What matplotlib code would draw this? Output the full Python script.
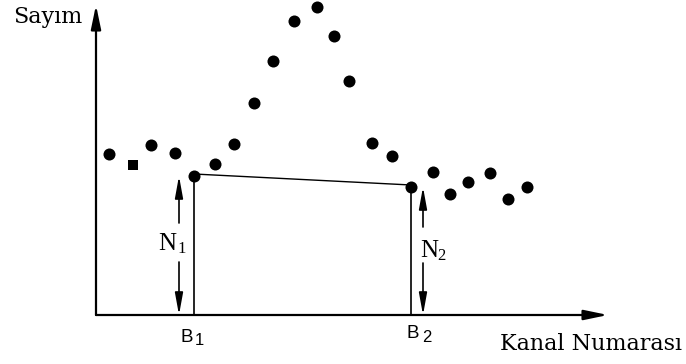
import matplotlib
matplotlib.use("Agg")
import matplotlib.pyplot as plt

# Spectrum data: channel number and counts per channel
channels = [0.65, 1.85, 2.75, 3.95, 4.9, 5.95, 6.9, 7.9, 8.85, 9.9, 11.05,
            11.9, 12.65, 13.8, 14.8, 15.75, 16.85, 17.7, 18.6, 19.7, 20.6, 21.55]
counts = [161, 150, 170, 162, 139, 151, 171, 212, 254, 294, 308,
          279, 234, 172, 159, 128, 143, 121, 133, 142, 116, 128]
square_idx = [1]          # one point drawn as a square marker

# Region boundaries B1, B2 and the background heights N1, N2
b1_idx, b2_idx = 4, 15
b1, b2 = channels[b1_idx], channels[b2_idx]
n1, n2 = counts[b1_idx], counts[b2_idx]

fig = plt.figure(figsize=(6.86, 3.64), dpi=100)
ax = fig.add_axes([0, 0, 1, 1])
ax.set_xlim(-4.8, 29.5)
ax.set_ylim(-49, 315)
ax.axis("off")

def arrow(x0, y0, x1, y1, lw, hl, hw, ms):
    ax.annotate("", xy=(x1, y1), xytext=(x0, y0),
                arrowprops=dict(arrowstyle=f"-|>,head_length={hl},head_width={hw}",
                                lw=lw, color="black", shrinkA=0, shrinkB=0,
                                mutation_scale=ms))

# Coordinate axes with arrow heads
arrow(0, 0, 25.6, 0, 1.6, 1.2, 0.25, 12)
arrow(0, 0, 0, 310, 1.6, 1.2, 0.25, 12)

# Data points
round_x = [c for i, c in enumerate(channels) if i not in square_idx]
round_y = [v for i, v in enumerate(counts) if i not in square_idx]
ax.scatter(round_x, round_y, s=75, marker="o", color="black", zorder=5, linewidths=0)
ax.scatter([channels[i] for i in square_idx], [counts[i] for i in square_idx],
           s=60, marker="s", color="black", zorder=5, linewidths=0)

# Boundary lines and the linear background between them
ax.plot([b1, b1], [0, n1], color="black", lw=1.2)
ax.plot([b2, b2], [0, n2], color="black", lw=1.2)
ax.plot([b1, b2], [n1 + 2, n2 + 2], color="black", lw=1.0)

# Height arrows for N1 and N2, broken around their labels
n1_x, n2_x = b1 - 0.75, b2 + 0.6
arrow(n1_x, 92, n1_x, n1, 1.2, 1.1, 0.2, 12)
arrow(n1_x, 53, n1_x, 0, 1.2, 1.1, 0.2, 12)
arrow(n2_x, 88, n2_x, n2, 1.2, 1.1, 0.2, 12)
arrow(n2_x, 52, n2_x, 0, 1.2, 1.1, 0.2, 12)

serif_big = dict(family="DejaVu Serif", fontsize=16, color="black")
ax.text(-4.15, 292, "Sayım", ha="left", va="baseline", **serif_big)
ax.text(20.2, -35, "Kanal Numarası", ha="left", va="baseline", **serif_big)

nfont = dict(family="Liberation Serif", color="black")
ax.text(3.1, 65, "N", ha="left", va="baseline", fontsize=18, **nfont)
ax.text(4.05, 62, "1", ha="left", va="baseline", fontsize=12, **nfont)
ax.text(16.2, 58, "N", ha="left", va="baseline", fontsize=18, **nfont)
ax.text(17.05, 55, "2", ha="left", va="baseline", fontsize=12, **nfont)

bfont = dict(family="Liberation Sans", color="black")
ax.text(4.2, -27, "B", ha="left", va="baseline", fontsize=13.5, **bfont)
ax.text(4.95, -30, "1", ha="left", va="baseline", fontsize=12, **bfont)
ax.text(15.55, -23, "B", ha="left", va="baseline", fontsize=13.5, **bfont)
ax.text(16.3, -27, "2", ha="left", va="baseline", fontsize=12, **bfont)

fig.savefig("out.png", dpi=100, facecolor="white")
